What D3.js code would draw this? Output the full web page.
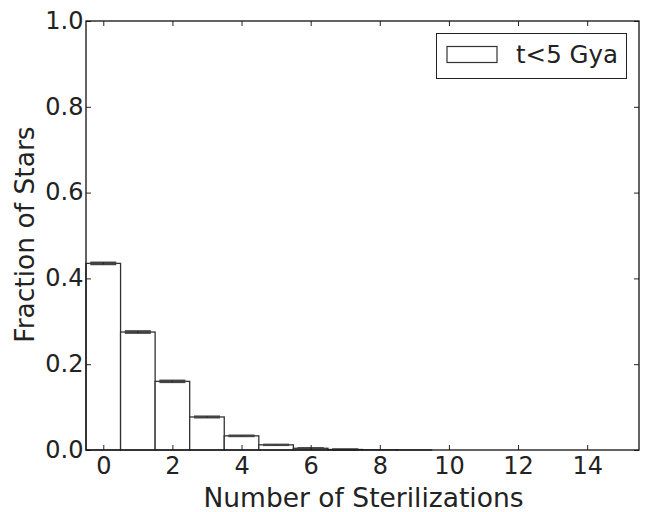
<!DOCTYPE html>
<html><head><meta charset="utf-8">
<script src="https://cdn.jsdelivr.net/npm/d3@7"></script>
<style>body{margin:0;background:#fff}svg{display:block}text{font-family:"DejaVu Sans",sans-serif;fill:#222}</style>
</head><body><div id="chart"></div>
<script>
const bins = [0,1,2,3,4,5,6,7,8,9,10,11,12,13,14,15];
const fractions = [0.435,0.275,0.160,0.077,0.033,0.012,0.004,0.0012,0.0004,0.0001,0,0,0,0,0,0];
const errors = [0.002,0.002,0.0018,0.0012,0.0008,0.0005,0.0003,0.0002,0.0001,0,0,0,0,0,0,0];
const xTicks = [0,2,4,6,8,10,12,14];
const yTicks = [0.0,0.2,0.4,0.6,0.8,1.0];
const legendLabel = "t<5 Gya";

const W=657,H=512, m={l:86,r:18,t:21,b:62};
const svg=d3.select("#chart").append("svg").attr("width",W).attr("height",H);
const x=d3.scaleLinear().domain([-0.5,15.5]).range([m.l,W-m.r]);
const y=d3.scaleLinear().domain([0,1]).range([H-m.b,m.t]);
const g=svg.append("g");
g.selectAll("rect.bar").data(bins).join("rect")
 .attr("x",d=>x(d-0.5)).attr("width",d=>x(d+0.5)-x(d-0.5))
 .attr("y",(d,i)=>y(fractions[i])).attr("height",(d,i)=>y(0)-y(fractions[i]))
 .attr("fill","#fff").attr("stroke","#333").attr("stroke-width",1.3);
// error bars
const cap=13;
bins.forEach((d,i)=>{
 if(fractions[i]<0.0005) return;
 const cx=x(d);
 [fractions[i]-errors[i],fractions[i]+errors[i]].forEach(v=>{
  g.append("line").attr("x1",cx-cap).attr("x2",cx+cap).attr("y1",y(v)).attr("y2",y(v)).attr("stroke","#444").attr("stroke-width",2);
 });
 g.append("line").attr("x1",cx).attr("x2",cx).attr("y1",y(fractions[i]-errors[i])).attr("y2",y(fractions[i]+errors[i])).attr("stroke","#222").attr("stroke-width",1.2);
});
// axes
const tl=5;
const xb=d3.axisBottom(x).tickValues(xTicks).tickFormat(d3.format("d")).tickSizeInner(-tl).tickSizeOuter(0);
const xt=d3.axisTop(x).tickValues(xTicks).tickFormat("").tickSizeInner(-tl).tickSizeOuter(0);
const yl=d3.axisLeft(y).tickValues(yTicks).tickFormat(d3.format(".1f")).tickSizeInner(-tl).tickSizeOuter(0);
const yr=d3.axisRight(y).tickValues(yTicks).tickFormat("").tickSizeInner(-tl).tickSizeOuter(0);
const ax=[
 svg.append("g").attr("transform",`translate(0,${H-m.b})`).call(xb),
 svg.append("g").attr("transform",`translate(0,${m.t})`).call(xt),
 svg.append("g").attr("transform",`translate(${m.l},0)`).call(yl),
 svg.append("g").attr("transform",`translate(${W-m.r},0)`).call(yr)];
ax.forEach(a=>{a.select(".domain").remove();a.selectAll("line").attr("stroke","#222").attr("stroke-width",1);a.selectAll("text").attr("font-size",24).attr("font-family","DejaVu Sans").attr("fill","#222");});
ax[0].selectAll("text").attr("y",23.7).attr("dy",null);
ax[2].selectAll("text").attr("x",-2.5).attr("dy","7.3px");
svg.append("rect").attr("x",m.l).attr("y",m.t).attr("width",W-m.r-m.l).attr("height",H-m.b-m.t).attr("fill","none").attr("stroke","#111").attr("stroke-width",1.3);
// labels
svg.append("text").attr("x",(m.l+W-m.r)/2+1).attr("y",506.5).attr("text-anchor","middle").attr("font-size",26.5).text("Number of Sterilizations");
svg.append("text").attr("transform",`translate(34,${(m.t+H-m.b)/2-1}) rotate(-90)`).attr("text-anchor","middle").attr("font-size",26.5).text("Fraction of Stars");
// legend
const lg=svg.append("g");
lg.append("rect").attr("x",436.5).attr("y",33.5).attr("width",190).attr("height",45).attr("fill","#fff").attr("stroke","#222").attr("stroke-width",1);
lg.append("rect").attr("x",447).attr("y",46.5).attr("width",50).attr("height",16).attr("fill","#fff").attr("stroke","#333").attr("stroke-width",1.2);
lg.append("text").attr("x",516).attr("y",63).attr("font-size",24.5).text(legendLabel);
</script></body></html>
